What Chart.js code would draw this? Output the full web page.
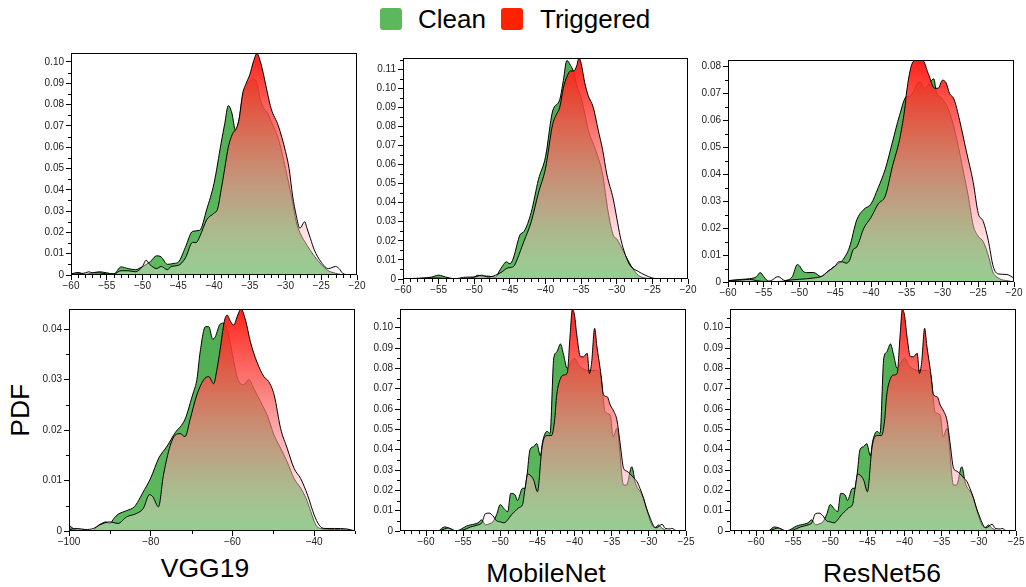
<!DOCTYPE html>
<html lang="en"><head>
<meta charset="utf-8">
<title>PDF of clean vs triggered</title>
<script src="https://cdn.jsdelivr.net/npm/chart.js@4.4.1/dist/chart.umd.min.js"></script>
<style>
body { margin: 0; background: #fff; font-family: "Liberation Sans", Arial, sans-serif; }
#page { position: relative; width: 1026px; height: 587px; overflow: hidden; }
#page canvas { position: absolute; }
.sw { position: absolute; top: 8px; width: 22px; height: 22px; border-radius: 3px; }
.txt { position: absolute; font-size: 26px; line-height: 26px; color: #000; white-space: nowrap; }
.ttl { position: absolute; font-size: 26.5px; line-height: 26.5px; color: #000; white-space: nowrap; width: 200px; text-align: center; }
</style>
</head>
<body>
<div id="page">
  <div class="sw" style="left:380px;background:#5cb85c"></div>
  <div class="txt" style="left:418px;top:6px">Clean</div>
  <div class="sw" style="left:501px;background:#ff2200"></div>
  <div class="txt" style="left:540px;top:6px">Triggered</div>

  <div class="ttl" style="left:-80px;top:397px;transform:rotate(-90deg)">PDF</div>
  <div class="ttl" style="left:105px;top:555px">VGG19</div>
  <div class="ttl" style="left:446px;top:560px">MobileNet</div>
  <div class="ttl" style="left:782px;top:560px">ResNet56</div>
</div>
<script>
// density curves, [x, pdf]
const topVggClean = [[-60,0.0005],[-59,0.0012],[-58,0.0003],[-57,0.001],[-56,0.0015],[-55,0.001],[-54,0.0005],[-53,0.0038],[-52,0.003],[-51,0.0025],[-50,0.004],[-49,0.006],[-48,0.009],[-47.4,0.0085],[-46.5,0.005],[-45.5,0.0055],[-45,0.006],[-44,0.013],[-43,0.0205],[-42,0.021],[-41,0.031],[-40,0.043],[-39,0.062],[-38.5,0.071],[-38,0.0795],[-37.5,0.076],[-37,0.068],[-36.5,0.073],[-36,0.084],[-35.5,0.089],[-35,0.091],[-34.5,0.092],[-34,0.09],[-33.5,0.082],[-33,0.078],[-32.5,0.076],[-32,0.072],[-31,0.064],[-30,0.05],[-29,0.034],[-28.5,0.025],[-28,0.02],[-27,0.014],[-26,0.009],[-25,0.005],[-24,0.002],[-23,0.0008],[-22,0]];
const topVggTrig = [[-60,0.0003],[-59,0.0005],[-58,0.001],[-57.5,0.0015],[-57,0.001],[-56,0.001],[-55,0.0005],[-54,0.0005],[-53,0.002],[-52,0.002],[-51,0.0015],[-50,0.004],[-49.5,0.0069],[-49,0.005],[-48,0.003],[-47.4,0.004],[-46.5,0.0025],[-46,0.004],[-45,0.0045],[-44,0.008],[-43,0.0153],[-42.5,0.0152],[-42,0.018],[-41,0.026],[-40,0.029],[-39.5,0.031],[-39,0.04],[-38.5,0.05],[-38,0.06],[-37.3,0.067],[-37,0.068],[-36.5,0.073],[-36,0.085],[-35.5,0.09],[-35,0.094],[-34.5,0.1],[-34,0.104],[-33.5,0.1],[-33,0.093],[-32.5,0.085],[-32,0.078],[-31,0.07],[-30,0.058],[-29.5,0.05],[-29,0.037],[-28.5,0.028],[-28,0.022],[-27.3,0.025],[-27,0.022],[-26.5,0.017],[-26,0.012],[-25,0.006],[-24,0.003],[-23,0.004],[-22.5,0.003],[-22,0.0008],[-21,0]];

const topMobileClean = [[-60,0],[-58,0.0002],[-57,0.0005],[-56,0.001],[-55,0.002],[-54,0.001],[-53,0.0002],[-52,0],[-51,0.0005],[-50,0.001],[-49.5,0.002],[-49,0.0015],[-48,0.0015],[-47,0.001],[-46.5,0.004],[-46,0.007],[-45.5,0.009],[-45,0.008],[-44.5,0.011],[-44,0.018],[-43.6,0.023],[-43,0.025],[-42,0.035],[-41,0.052],[-40,0.064],[-39,0.088],[-38,0.094],[-37.5,0.104],[-37,0.1145],[-36.5,0.112],[-36.1,0.109],[-35.5,0.1],[-35,0.095],[-34.5,0.087],[-34,0.078],[-33,0.068],[-32,0.055],[-31.2,0.035],[-30.5,0.023],[-30,0.021],[-29,0.014],[-28,0.007],[-27,0.002],[-26,0.0005],[-25,0]];
const topMobileTrig = [[-60,0],[-57,0.0005],[-55,0.0005],[-53,0],[-51,0.001],[-50,0.001],[-49,0.002],[-48,0.001],[-47,0.002],[-46,0.004],[-45.5,0.0055],[-45,0.006],[-44.5,0.0065],[-44,0.01],[-43.5,0.015],[-43,0.02],[-42,0.03],[-41,0.045],[-40,0.058],[-39,0.081],[-38.5,0.086],[-38,0.09],[-37.5,0.1],[-37,0.106],[-36.5,0.109],[-36,0.109],[-35.6,0.112],[-35.3,0.116],[-35,0.113],[-34.5,0.103],[-34,0.096],[-33.3,0.09],[-32.6,0.078],[-32,0.068],[-31.4,0.055],[-30.5,0.042],[-30,0.032],[-29.5,0.022],[-29,0.015],[-28.2,0.0075],[-27,0.004],[-26,0.002],[-25,0.0005],[-24,0]];

const topResClean = [[-60,0.0005],[-58,0.001],[-57,0.0012],[-56,0.002],[-55.5,0.0035],[-55,0.002],[-54.5,0.0005],[-54,0],[-53,0.0002],[-52,0.0005],[-51,0.002],[-50.3,0.0065],[-50,0.006],[-49.5,0.004],[-49,0.0035],[-48,0.0035],[-47,0.002],[-46,0.004],[-45,0.006],[-44.5,0.007],[-44,0.008],[-43,0.013],[-42,0.023],[-41,0.027],[-40,0.029],[-39,0.035],[-38,0.042],[-37,0.052],[-36,0.062],[-35,0.069],[-34.6,0.069],[-33.2,0.0745],[-32.5,0.072],[-31.5,0.075],[-31.2,0.0755],[-30.9,0.071],[-30,0.068],[-29,0.063],[-28,0.053],[-27,0.04],[-26.4,0.032],[-25.7,0.021],[-25,0.017],[-24.3,0.015],[-23.5,0.009],[-23,0.004],[-22,0.0012],[-21,0.0005],[-20,0]];
const topResTrig = [[-60,0.0005],[-58,0.0008],[-57,0.001],[-56,0.0005],[-55,0.0002],[-54,0.0005],[-53,0.002],[-52,0.0005],[-51,0.0008],[-50,0.001],[-49,0.0012],[-48,0.0015],[-47,0.002],[-46,0.004],[-45,0.006],[-44.5,0.0075],[-44,0.0075],[-43.5,0.007],[-43,0.008],[-42.5,0.012],[-42,0.013],[-41,0.02],[-40,0.024],[-39,0.029],[-38,0.032],[-37,0.043],[-36,0.053],[-35.3,0.064],[-35,0.071],[-34.4,0.08],[-33.7,0.0825],[-32.8,0.0825],[-32,0.0775],[-31.1,0.072],[-30.6,0.072],[-30,0.075],[-29.5,0.074],[-29,0.07],[-28.4,0.068],[-27.6,0.06],[-26.7,0.049],[-25.7,0.037],[-25,0.0255],[-24.3,0.0225],[-23.6,0.0155],[-22.9,0.0057],[-22.2,0.003],[-21,0.0028],[-20,0.0014]];

const botVggClean = [[-100,0.0012],[-99,0.0005],[-98,0.0002],[-96,0.0002],[-95,0],[-94,0.0002],[-93,0.001],[-92,0.0015],[-91,0.0018],[-90,0.0015],[-89,0.0025],[-88,0.0033],[-86,0.004],[-84,0.0048],[-83,0.006],[-82,0.0075],[-80,0.0105],[-78,0.0145],[-76,0.0168],[-74,0.0195],[-72,0.0215],[-71.2,0.023],[-70,0.0263],[-69.5,0.0276],[-68.7,0.03],[-67.9,0.0355],[-66.6,0.0405],[-65.8,0.0405],[-64.8,0.038],[-64.2,0.0385],[-63,0.041],[-62,0.0412],[-61,0.039],[-60,0.035],[-59,0.031],[-58.4,0.0296],[-57.2,0.029],[-56,0.03],[-54.8,0.0283],[-53.1,0.0256],[-51.5,0.023],[-49.8,0.019],[-48.2,0.0164],[-46.6,0.0137],[-44.9,0.0104],[-43.3,0.0085],[-42,0.0065],[-40.8,0.0038],[-39.6,0.0012],[-38.4,0.0005],[-35,0.0003],[-32,0.0002],[-30,0]];
const botVggTrig = [[-100,0.0003],[-98,0.0005],[-96,0.0003],[-94,0.0005],[-92.5,0.0012],[-90,0.0018],[-88,0.0015],[-85.9,0.0028],[-83.4,0.0035],[-81.8,0.0045],[-80.3,0.0072],[-79.5,0.0068],[-78.1,0.0048],[-76.9,0.011],[-75.2,0.017],[-74,0.019],[-72.8,0.0193],[-71.6,0.0187],[-70.3,0.0223],[-68.7,0.027],[-67,0.03],[-65.8,0.0306],[-64.6,0.0292],[-63.8,0.032],[-63,0.036],[-62,0.0415],[-61.3,0.0428],[-60.5,0.0416],[-59.7,0.0408],[-58.7,0.0428],[-57.9,0.044],[-56.8,0.0418],[-55.6,0.0375],[-54,0.0335],[-52.3,0.0306],[-51.1,0.0296],[-49.8,0.027],[-48.2,0.0203],[-46.6,0.0164],[-44.9,0.0124],[-43.3,0.0104],[-41.6,0.0071],[-40,0.0032],[-38.8,0.0012],[-37.5,0.0005],[-35,0.0005],[-32,0.0004],[-30,0]];

const botMobileClean = [[-58.3,0],[-57.5,0.002],[-57,0.0015],[-56.5,0.0005],[-56,0],[-55.5,0.0005],[-55,0.0015],[-54.5,0.0025],[-54,0.003],[-53,0.004],[-52.5,0.0055],[-52,0.003],[-51.5,0.0035],[-51,0.0045],[-50.5,0.008],[-50,0.013],[-49.5,0.011],[-49,0.0095],[-48.6,0.0185],[-48,0.0177],[-47.7,0.015],[-47,0.021],[-46.7,0.021],[-46.4,0.0275],[-46,0.04],[-45.5,0.0415],[-45.1,0.043],[-44.6,0.037],[-44.3,0.044],[-43.7,0.049],[-43.3,0.048],[-42.8,0.085],[-42.4,0.088],[-41.9,0.092],[-41.5,0.087],[-41,0.08],[-40.5,0.083],[-40,0.085],[-39.5,0.082],[-39,0.08],[-38,0.079],[-37,0.079],[-36.5,0.077],[-35.9,0.0587],[-35.2,0.057],[-34.8,0.0464],[-34.3,0.0505],[-33.4,0.0226],[-33,0.0226],[-32.3,0.0316],[-31.8,0.0234],[-30.9,0.0177],[-30.2,0.0095],[-29.6,0.003],[-29.1,0.0018],[-28.7,0.003],[-28.2,0.0013],[-27,0],[-25,0]];
const botMobileTrig = [[-58.3,0],[-57.5,0.001],[-57,0.0015],[-56.3,0.0005],[-56,0],[-55,0.0005],[-54,0.002],[-53,0.003],[-52.5,0.004],[-52,0.0085],[-51.5,0.0088],[-51,0.0075],[-50.5,0.005],[-50,0.0045],[-49.5,0.004],[-49,0.0055],[-48.5,0.008],[-48,0.0097],[-47.5,0.0115],[-47,0.013],[-46.7,0.02],[-46.3,0.028],[-46,0.0275],[-45.5,0.025],[-45,0.0193],[-44.4,0.0407],[-44,0.0464],[-43.5,0.047],[-43.1,0.047],[-42.7,0.054],[-42.4,0.067],[-41.9,0.075],[-41.5,0.0767],[-41,0.0775],[-40.6,0.0964],[-40.3,0.109],[-40,0.106],[-39.7,0.0964],[-39.2,0.0857],[-38.8,0.0857],[-38.3,0.0874],[-38,0.0775],[-37.7,0.083],[-37.3,0.0997],[-37,0.091],[-36.5,0.0784],[-36.1,0.067],[-35.6,0.066],[-35.2,0.062],[-34.7,0.0587],[-34.3,0.0546],[-33.9,0.044],[-33.4,0.0308],[-33,0.0295],[-32.5,0.028],[-32,0.026],[-31.6,0.0243],[-31.2,0.021],[-30.7,0.016],[-30.3,0.011],[-29.8,0.0062],[-29.3,0.0021],[-29,0.0016],[-28.2,0.0033],[-27.8,0.0013],[-27.1,0.001],[-26.9,0.0013],[-26.4,0.0003],[-26,0]];

// the ResNet56 panel is drawn identical to MobileNet in the figure
const botResClean = botMobileClean;
const botResTrig = botMobileTrig;

const PADL = 44, PADT = 8, PADR = 14, PADB = 22;

const panels = [
  { l: 71,  t: 53,  r: 357,  b: 275, xmin: -60,   xmax: -20, xstep: 1,  xmajor: 5,  ymax: 0.1042, clean: topVggClean,    trig: topVggTrig },
  { l: 403, t: 58,  r: 688,  b: 279, xmin: -60,   xmax: -20, xstep: 1,  xmajor: 5,  ymax: 0.1158, clean: topMobileClean, trig: topMobileTrig },
  { l: 728, t: 60,  r: 1014, b: 282, xmin: -60,   xmax: -20, xstep: 1,  xmajor: 5,  ymax: 0.0825, clean: topResClean,    trig: topResTrig },
  { l: 69,  t: 309, r: 355,  b: 531, xmin: -100,  xmax: -30, xstep: 10, xmajor: 20, ymax: 0.044,  clean: botVggClean,    trig: botVggTrig },
  { l: 400, t: 309, r: 686,  b: 531, xmin: -63.5, xmax: -25, xstep: 1,  xmajor: 5,  ymax: 0.1092, clean: botMobileClean, trig: botMobileTrig },
  { l: 730, t: 309, r: 1016, b: 531, xmin: -63.5, xmax: -25, xstep: 1,  xmajor: 5,  ymax: 0.1092, clean: botResClean,    trig: botResTrig }
];

const isMult = (v, m) => Math.abs(v / m - Math.round(v / m)) < 1e-6;
const tickFont = { family: "'Liberation Sans', Arial, sans-serif", size: 10 };

function cleanFill(ctx) {
  const a = ctx.chart.chartArea;
  if (!a) return 'rgb(88,180,88)';
  const g = ctx.chart.ctx.createLinearGradient(0, a.top, 0, a.bottom);
  g.addColorStop(0, 'rgb(80,172,80)');
  g.addColorStop(1, 'rgb(94,186,94)');
  return g;
}
function trigFill(ctx) {
  const a = ctx.chart.chartArea;
  if (!a) return 'rgba(255,30,20,0.8)';
  const g = ctx.chart.ctx.createLinearGradient(0, a.top, 0, a.bottom);
  g.addColorStop(0, 'rgba(255,25,15,0.96)');
  g.addColorStop(0.35, 'rgba(250,90,85,0.8)');
  g.addColorStop(0.65, 'rgba(255,147,157,0.6)');
  g.addColorStop(1, 'rgba(255,240,240,0.35)');
  return g;
}

// box round the plot area
const frame = {
  id: 'frame',
  afterDraw(c) {
    const a = c.chartArea, ctx = c.ctx;
    ctx.save();
    ctx.strokeStyle = '#000';
    ctx.lineWidth = 1;
    ctx.strokeRect(Math.round(a.left) + 0.5, Math.round(a.top) + 0.5,
      Math.round(a.right - a.left) - 1, Math.round(a.bottom - a.top) - 1);
    ctx.restore();
  }
};

// short unlabelled ticks between the labelled ones
function minorTicks(p) {
  return {
    id: 'minorTicks',
    afterDraw(c) {
      const a = c.chartArea, ctx = c.ctx, xs = c.scales.x, ys = c.scales.y;
      ctx.save();
      ctx.strokeStyle = '#000';
      ctx.lineWidth = 1;
      ctx.beginPath();
      xs.ticks.forEach(t => {
        if (isMult(t.value, p.xmajor)) return;
        const px = Math.round(xs.getPixelForValue(t.value)) + 0.5;
        ctx.moveTo(px, a.bottom); ctx.lineTo(px, a.bottom + 3);
      });
      ys.ticks.forEach(t => {
        if (isMult(t.value, 0.01)) return;
        const py = Math.round(ys.getPixelForValue(t.value)) + 0.5;
        ctx.moveTo(a.left - 3, py); ctx.lineTo(a.left, py);
      });
      ctx.stroke();
      ctx.restore();
    }
  };
}

const page = document.getElementById('page');
panels.forEach(p => {
  const cv = document.createElement('canvas');
  const W = p.r - p.l + PADL + PADR, H = p.b - p.t + PADT + PADB;
  cv.width = W; cv.height = H;
  cv.style.width = W + 'px'; cv.style.height = H + 'px';
  cv.style.left = (p.l - PADL) + 'px'; cv.style.top = (p.t - PADT) + 'px';
  page.appendChild(cv);

  const line = { fill: 'origin', borderColor: '#000', borderWidth: 1, pointRadius: 0, cubicInterpolationMode: 'monotone' };
  new Chart(cv, {
    type: 'line',
    data: {
      datasets: [
        Object.assign({ label: 'Triggered', order: 0, backgroundColor: trigFill, data: p.trig.map(d => ({ x: d[0], y: d[1] })) }, line),
        Object.assign({ label: 'Clean', order: 1, backgroundColor: cleanFill, data: p.clean.map(d => ({ x: d[0], y: d[1] })) }, line)
      ]
    },
    options: {
      responsive: false,
      animation: false,
      layout: { padding: { left: 0, top: PADT, right: PADR, bottom: 0 } },
      plugins: { legend: { display: false }, tooltip: { enabled: false } },
      scales: {
        x: {
          type: 'linear', min: p.xmin, max: p.xmax,
          afterFit(s) { s.height = PADB; },
          border: { display: false },
          grid: {
            drawOnChartArea: false, tickLength: 5,
            tickColor: c => c.tick && isMult(c.tick.value, p.xmajor) ? '#000' : 'rgba(0,0,0,0)'
          },
          ticks: {
            stepSize: p.xstep, autoSkip: false, maxRotation: 0, maxTicksLimit: 1000, includeBounds: false, padding: 0,
            font: tickFont, color: '#222',
            callback: v => isMult(v, p.xmajor) ? (v < 0 ? '\u2212' + Math.abs(v) : String(v)) : ''
          }
        },
        y: {
          min: 0, max: p.ymax,
          afterFit(s) { s.width = PADL; },
          border: { display: false },
          grid: {
            drawOnChartArea: false, tickLength: 5,
            tickColor: c => c.tick && isMult(c.tick.value, 0.01) ? '#000' : 'rgba(0,0,0,0)'
          },
          ticks: {
            stepSize: 0.005, autoSkip: false, maxTicksLimit: 1000, includeBounds: false, padding: 2,
            font: tickFont, color: '#222',
            callback: v => isMult(v, 0.01) ? (Math.abs(v) < 1e-9 ? '0' : v.toFixed(2)) : ''
          }
        }
      }
    },
    plugins: [frame, minorTicks(p)]
  });
});
</script>
</body></html>
